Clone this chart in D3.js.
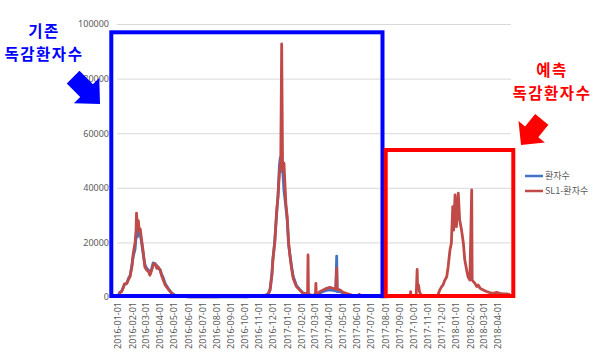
<!DOCTYPE html>
<html>
<head>
<meta charset="utf-8">
<script src="https://cdn.jsdelivr.net/npm/d3@7"></script>
<style>
  body { margin: 0; background: #fff; }
  svg { display: block; }
  text { font-family: "Noto Sans CJK KR", "Noto Sans", sans-serif; }
</style>
</head>
<body>
<div id="chart"></div>
<script>
// -------- DATA --------

// 환자수 (actual)
const actualDates = [
  "2016-01-01","2016-01-05","2016-01-09","2016-01-12","2016-01-15","2016-01-20","2016-01-24","2016-01-27",
  "2016-01-31","2016-02-03","2016-02-07","2016-02-09","2016-02-10","2016-02-12","2016-02-14","2016-02-16",
  "2016-02-18","2016-02-21","2016-02-25","2016-02-28","2016-03-03","2016-03-07","2016-03-10","2016-03-14",
  "2016-03-17","2016-03-21","2016-03-25","2016-03-28","2016-04-01","2016-04-04","2016-04-08","2016-04-12",
  "2016-04-19","2016-04-26","2016-05-03","2016-05-15","2016-06-01","2016-08-01","2016-10-01","2016-11-01",
  "2016-11-15","2016-11-21","2016-11-25","2016-11-29","2016-12-01","2016-12-05","2016-12-09","2016-12-12",
  "2016-12-15","2016-12-17","2016-12-20","2016-12-22","2016-12-25","2016-12-29","2017-01-01","2017-01-04",
  "2017-01-07","2017-01-11","2017-01-14","2017-01-21","2017-01-28","2017-02-04","2017-02-15","2017-02-24",
  "2017-03-04","2017-03-13","2017-03-20","2017-03-27","2017-04-03","2017-04-10","2017-04-16","2017-04-18",
  "2017-04-19","2017-04-25","2017-05-02","2017-05-09","2017-05-16","2017-05-25","2017-06-15","2017-07-01",
  "2017-07-31"
];
const actualValues = [
  300, 1800, 2200, 3500, 4500, 5000, 7000, 7800,
  11500, 15000, 17500, 22000, 25000, 22000, 25500, 24500,
  23000, 20000, 15000, 12000, 10500, 9800, 8500, 10500,
  12500, 12000, 11500, 10500, 10000, 8500, 7000, 5000,
  3000, 1500, 700, 300, 100, 100, 100, 300,
  600, 1200, 3000, 9000, 14000, 20500, 30000, 37000,
  48000, 51000, 46000, 47000, 39000, 33000, 28000, 19000,
  15500, 10500, 7500, 4200, 2800, 1500, 900, 600,
  900, 1500, 2000, 2400, 2600, 2400, 2200, 15000,
  2000, 2000, 1400, 1000, 700, 400, 300, 200,
  100
];

// SL1-환자수 (fitted + forecast)
const sl1Dates = [
  "2016-01-01","2016-01-05","2016-01-09","2016-01-12","2016-01-15","2016-01-20","2016-01-24","2016-01-27",
  "2016-01-31","2016-02-03","2016-02-07","2016-02-09","2016-02-10","2016-02-12","2016-02-14","2016-02-16",
  "2016-02-18","2016-02-21","2016-02-25","2016-02-28","2016-03-03","2016-03-07","2016-03-10","2016-03-14",
  "2016-03-17","2016-03-21","2016-03-25","2016-03-28","2016-04-01","2016-04-04","2016-04-08","2016-04-12",
  "2016-04-19","2016-04-26","2016-05-03","2016-05-15","2016-06-01","2016-08-01","2016-09-25","2016-10-01",
  "2016-11-01","2016-11-15","2016-11-21","2016-11-25","2016-11-29","2016-12-01","2016-12-05","2016-12-09",
  "2016-12-12","2016-12-15","2016-12-18","2016-12-20","2016-12-22","2016-12-25","2016-12-29","2017-01-01",
  "2017-01-04","2017-01-07","2017-01-11","2017-01-14","2017-01-21","2017-01-28","2017-02-04","2017-02-14",
  "2017-02-15","2017-02-16","2017-02-24","2017-03-03","2017-03-04","2017-03-05","2017-03-13","2017-03-20",
  "2017-03-27","2017-04-03","2017-04-10","2017-04-16","2017-04-18","2017-04-19","2017-04-25","2017-05-02",
  "2017-05-09","2017-05-16","2017-05-25","2017-06-05","2017-06-06","2017-06-07","2017-07-01","2017-08-01",
  "2017-09-01","2017-09-24","2017-09-25","2017-09-26","2017-10-07","2017-10-09","2017-10-10","2017-10-12",
  "2017-10-14","2017-10-17","2017-10-22","2017-11-11","2017-11-23","2017-11-27","2017-12-01","2017-12-04",
  "2017-12-08","2017-12-12","2017-12-15","2017-12-19","2017-12-22","2017-12-25","2017-12-27","2017-12-30",
  "2018-01-02","2018-01-06","2018-01-09","2018-01-13","2018-01-17","2018-01-20","2018-01-24","2018-01-27",
  "2018-01-31","2018-02-04","2018-02-05","2018-02-11","2018-02-15","2018-02-18","2018-02-22","2018-03-01",
  "2018-03-08","2018-03-15","2018-03-23","2018-03-30","2018-04-06","2018-04-13","2018-04-20","2018-04-28"
];
const sl1Values = [
  300, 1500, 2000, 3200, 4800, 5000, 6500, 7400,
  11000, 16000, 20000, 24000, 30700, 26000, 28000, 24000,
  25000, 21000, 16000, 11000, 9900, 9300, 8000, 9900,
  11700, 12300, 10500, 11000, 9900, 8000, 6200, 4400,
  2800, 1300, 500, 200, 100, 80, 600, 100,
  300, 600, 1000, 2500, 8000, 13500, 19700, 31300,
  36700, 45000, 50000, 92700, 46500, 49000, 34300, 29400,
  20000, 14800, 9900, 6800, 3800, 2600, 1400, 1000,
  15400, 1000, 500, 800, 5000, 800, 2000, 2600,
  3200, 3500, 3200, 3000, 10500, 2800, 2600, 1700,
  1300, 1000, 400, 300, 1000, 300, 200, 100,
  200, 200, 2000, 200, 500, 10100, 3800, 4400,
  2000, 700, 300, 300, 700, 2600, 3800, 4400,
  6200, 7400, 11000, 17200, 19700, 33100, 24500, 37400,
  25800, 38000, 28200, 24500, 19700, 13600, 9900, 7400,
  6200, 39200, 6200, 5000, 3800, 4400, 3200, 2600,
  2000, 1600, 1300, 1700, 1300, 1100, 1100, 900
];

const yTicks = [0, 20000, 40000, 60000, 80000, 100000];
const monthTicks = d3.timeMonths(new Date(2016, 0, 1), new Date(2018, 3, 2));
const seriesNames = ["환자수", "SL1-환자수"];
const seriesColors = ["#4472C4", "#BF4A47"];

// -------- LAYOUT --------
const width = 600, height = 356;
const parse = d3.timeParse("%Y-%m-%d");

const svg = d3.select("#chart").append("svg")
  .attr("width", width)
  .attr("height", height);

const x = d3.scaleTime()
  .domain([new Date(2016, 0, 1), new Date(2018, 3, 30)])
  .range([118, 511]);

const y = d3.scaleLinear()
  .domain([0, 100000])
  .range([297, 24]);

// gridlines
const grid = svg.append("g")
  .attr("transform", "translate(117,0)")
  .call(d3.axisLeft(y).tickValues(yTicks).tickSize(-394).tickFormat(""));
grid.select(".domain").remove();
grid.selectAll(".tick line").attr("stroke", "#d9d9d9").attr("stroke-width", 1);

// y axis labels
const yAxisG = svg.append("g")
  .attr("transform", "translate(117,0)")
  .call(d3.axisLeft(y).tickValues(yTicks).tickSize(0).tickPadding(8).tickFormat(d3.format("d")));
yAxisG.select(".domain").remove();
yAxisG.selectAll(".tick text")
  .attr("fill", "#595959")
  .style("font-size", "9px")
  .style("font-family", "'Noto Sans', sans-serif");

// x axis
const xAxisG = svg.append("g")
  .attr("transform", "translate(0,297)")
  .call(d3.axisBottom(x).tickValues(monthTicks).tickSize(0).tickFormat(d3.timeFormat("%Y-%m-%d")));
xAxisG.select(".domain").attr("stroke", "#d9d9d9");
xAxisG.selectAll(".tick text")
  .attr("fill", "#595959")
  .style("font-size", "9px")
  .style("font-family", "'Noto Sans', sans-serif")
  .attr("text-anchor", "end")
  .attr("transform", "rotate(-90)")
  .attr("x", -5)
  .attr("y", 0)
  .attr("dy", "0.32em");

// lines
const line = d3.line()
  .x(d => x(d.date))
  .y(d => y(d.value));

const actual = actualDates.map((d, i) => ({ date: parse(d), value: actualValues[i] }));
const sl1 = sl1Dates.map((d, i) => ({ date: parse(d), value: sl1Values[i] }));

svg.append("path")
  .datum(actual)
  .attr("fill", "none")
  .attr("stroke", seriesColors[0])
  .attr("stroke-width", 2.8)
  .attr("stroke-linejoin", "round")
  .attr("d", line);

svg.append("path")
  .datum(sl1)
  .attr("fill", "none")
  .attr("stroke", seriesColors[1])
  .attr("stroke-width", 2.8)
  .attr("stroke-linejoin", "round")
  .attr("d", line);

// legend
const legend = svg.append("g");
seriesNames.forEach((name, i) => {
  const ly = 176 + i * 15;
  legend.append("line")
    .attr("x1", 525).attr("x2", 543)
    .attr("y1", ly).attr("y2", ly)
    .attr("stroke", seriesColors[i])
    .attr("stroke-width", 2.5);
  legend.append("text")
    .attr("x", 545).attr("y", ly)
    .attr("dy", "0.35em")
    .attr("fill", "#595959")
    .style("font-size", "9px")
    .text(name);
});

// -------- ANNOTATIONS --------
svg.append("rect")
  .attr("x", 111.3).attr("y", 32.3)
  .attr("width", 271.2).attr("height", 263.7)
  .attr("fill", "none")
  .attr("stroke", "#0000ff")
  .attr("stroke-width", 4);

svg.append("rect")
  .attr("x", 385.7).attr("y", 150)
  .attr("width", 127.6).attr("height", 146)
  .attr("fill", "none")
  .attr("stroke", "#ff0000")
  .attr("stroke-width", 4);

function arrowPoints(tx, ty, angleDeg, len, headLen, headW, shaftW) {
  const a = angleDeg * Math.PI / 180;
  const ux = Math.cos(a), uy = Math.sin(a);
  const nx = -uy, ny = ux;
  const bx = tx - ux * headLen, by = ty - uy * headLen;
  const ex = tx - ux * len, ey = ty - uy * len;
  const p = (cx, cy, k) => [cx + nx * k, cy + ny * k];
  return [
    [tx, ty],
    p(bx, by, headW / 2),
    p(bx, by, shaftW / 2),
    p(ex, ey, shaftW / 2),
    p(ex, ey, -shaftW / 2),
    p(bx, by, -shaftW / 2),
    p(bx, by, -headW / 2)
  ];
}

svg.append("polygon")
  .attr("points", arrowPoints(100, 104, 45, 38, 19, 36, 18).join(" "))
  .attr("fill", "#0000ff");

svg.append("polygon")
  .attr("points", arrowPoints(521, 145, 129, 33, 17, 34, 17).join(" "))
  .attr("fill", "#ff0000");

// annotation labels, one text per line
const noteLines = [
  { x: 44, y: 37, text: "기존", color: "#0000ff" },
  { x: 44, y: 59.5, text: "독감환자수", color: "#0000ff" },
  { x: 552, y: 76, text: "예측", color: "#ff0000" },
  { x: 552, y: 98.5, text: "독감환자수", color: "#ff0000" }
];
noteLines.forEach(n => {
  svg.append("text")
    .attr("x", n.x).attr("y", n.y)
    .attr("text-anchor", "middle")
    .attr("fill", n.color)
    .style("font-size", "15.5px")
    .style("font-weight", "bold")
    .style("letter-spacing", "1.5px")
    .text(n.text);
});
</script>
</body>
</html>
